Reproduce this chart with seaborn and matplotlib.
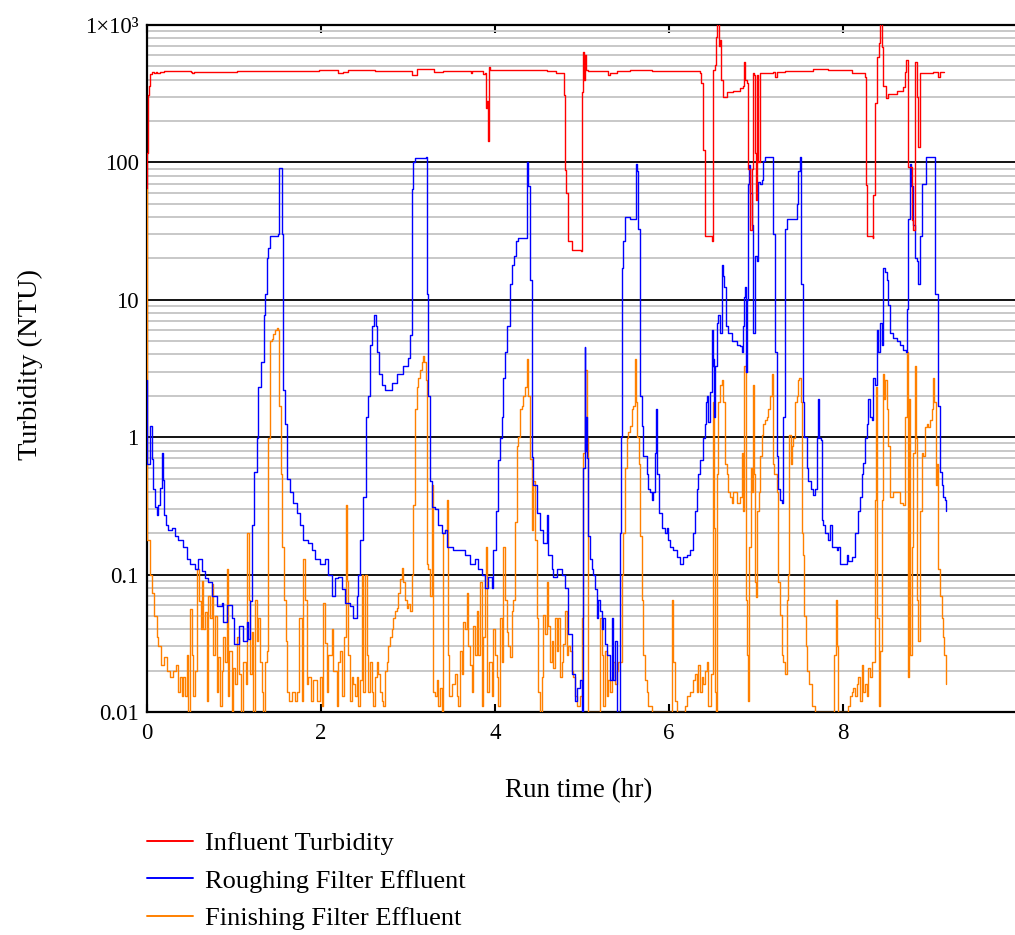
import matplotlib
matplotlib.use("Agg")
import matplotlib.pyplot as plt
import seaborn as sns
import pandas as pd
from matplotlib.ticker import FixedLocator, FixedFormatter, LogLocator, NullFormatter
from matplotlib.lines import Line2D

# ---- data: run time (hr) and turbidity (NTU) ----
influent_t = [0.0, 0.004, 0.01, 0.025, 0.04, 0.06, 0.08, 0.1, 0.12, 0.15, 0.2, 0.5, 0.52, 0.54, 0.6,
              1.0, 1.03, 1.95, 1.98, 2.05, 2.2, 2.25, 2.31, 2.6, 2.62, 3.0, 3.05, 3.1, 3.25, 3.3,
              3.4, 3.71, 3.72, 3.73, 3.866, 3.885, 3.897, 3.91, 3.922, 3.93, 3.943, 4.2, 4.55, 4.6,
              4.7, 4.785, 4.79, 4.805, 4.82, 4.835, 4.843, 4.881, 4.99, 4.996, 5.01, 5.02, 5.03,
              5.05, 5.073, 5.25, 5.3, 5.32, 5.4, 5.55, 5.7, 5.8, 6.36, 6.37, 6.395, 6.414, 6.49,
              6.5, 6.525, 6.54, 6.555, 6.57, 6.586, 6.6, 6.617, 6.663, 6.739, 6.816, 6.847, 6.862,
              6.874, 6.893, 6.912, 6.931, 6.95, 6.962, 6.977, 6.989, 7.0, 7.015, 7.027, 7.046,
              7.199, 7.218, 7.238, 7.333, 7.659, 7.812, 7.831, 8.08, 8.1, 8.234, 8.253, 8.264,
              8.28, 8.341, 8.349, 8.368, 8.387, 8.418, 8.425, 8.444, 8.456, 8.49, 8.521, 8.617,
              8.693, 8.713, 8.724, 8.751, 8.789, 8.808, 8.828, 8.85, 8.866, 8.885, 9.038, 9.096,
              9.115, 9.161]
influent_ntu = [65, 118, 310, 360, 440, 455, 445, 457, 450, 458, 462, 457, 450, 457, 452,
                455, 462, 462, 472, 468, 450, 455, 472, 472, 462, 462, 435, 475, 478, 452,
                462, 462, 450, 462, 440, 450, 248, 280, 144, 492, 470, 470, 468, 462,
                450, 445, 310, 88, 60, 49, 27, 23, 22.5, 327, 640, 400, 600,
                470, 462, 462, 430, 450, 465, 470, 468, 462, 445, 377, 123, 29, 27,
                470, 511, 822, 1030, 700, 776, 398, 300, 327, 330, 346, 360, 541,
                400, 377, 90, 32, 90, 450, 430, 117, 53, 430, 100, 450,
                457, 421, 455, 462, 478, 478, 468, 468, 450, 445, 420, 69,
                29, 28, 58, 271, 588, 736, 1050, 695, 360, 292, 316, 330,
                355, 457, 556, 93, 38, 32, 540, 300, 130, 450, 457, 421,
                455, 455]

roughing_t = [0.0, 0.004, 0.034, 0.054, 0.065, 0.092, 0.119, 0.13, 0.149, 0.169, 0.18, 0.195, 0.218,
              0.245, 0.284, 0.322, 0.36, 0.418, 0.456, 0.494, 0.552, 0.59, 0.628, 0.667, 0.705,
              0.743, 0.8, 0.858, 0.877, 0.923, 0.973, 1.004, 1.061, 1.107, 1.146, 1.157, 1.184,
              1.203, 1.23, 1.26, 1.28, 1.307, 1.345, 1.356, 1.376, 1.395, 1.414, 1.51, 1.521,
              1.536, 1.548, 1.567, 1.586, 1.605, 1.644, 1.682, 1.72, 1.759, 1.797, 1.854, 1.893,
              1.931, 1.989, 2.046, 2.084, 2.123, 2.161, 2.199, 2.238, 2.276, 2.333, 2.372, 2.41,
              2.429, 2.448, 2.487, 2.517, 2.544, 2.563, 2.582, 2.609, 2.632, 2.648, 2.67, 2.697,
              2.736, 2.793, 2.812, 2.87, 2.946, 3.004, 3.023, 3.042, 3.061, 3.08, 3.207, 3.215,
              3.234, 3.253, 3.272, 3.31, 3.349, 3.387, 3.425, 3.452, 3.521, 3.598, 3.655, 3.713,
              3.77, 3.808, 3.847, 3.885, 3.923, 3.962, 3.981, 4.011, 4.038, 4.057, 4.077, 4.096,
              4.115, 4.134, 4.172, 4.19, 4.218, 4.241, 4.268, 4.345, 4.364, 4.371, 4.383, 4.402,
              4.421, 4.441, 4.479, 4.517, 4.555, 4.594, 4.605, 4.651, 4.67, 4.709, 4.766, 4.805,
              4.843, 4.881, 4.92, 4.939, 4.977, 4.996, 5.015, 5.03, 5.04, 5.05, 5.06, 5.073,
              5.092, 5.11, 5.13, 5.149, 5.169, 5.188, 5.207, 5.226, 5.245, 5.264, 5.284, 5.322,
              5.341, 5.36, 5.379, 5.398, 5.406, 5.425, 5.437, 5.448, 5.456, 5.475, 5.494, 5.552,
              5.609, 5.621, 5.636, 5.648, 5.667, 5.686, 5.705, 5.743, 5.762, 5.782, 5.801, 5.82,
              5.839, 5.851, 5.866, 5.885, 5.916, 5.954, 5.973, 5.992, 6.011, 6.05, 6.088, 6.126,
              6.165, 6.203, 6.241, 6.28, 6.299, 6.318, 6.337, 6.356, 6.395, 6.414, 6.425, 6.441,
              6.452, 6.471, 6.49, 6.502, 6.51, 6.521, 6.533, 6.548, 6.567, 6.586, 6.605, 6.617,
              6.632, 6.651, 6.682, 6.72, 6.777, 6.816, 6.835, 6.847, 6.862, 6.874, 6.885, 6.893,
              6.905, 6.915, 6.931, 6.95, 6.969, 6.989, 7.008, 7.027, 7.046, 7.065, 7.084, 7.103,
              7.18, 7.192, 7.218, 7.238, 7.257, 7.276, 7.295, 7.314, 7.333, 7.352, 7.429, 7.467,
              7.487, 7.506, 7.52, 7.536, 7.552, 7.582, 7.602, 7.628, 7.659, 7.678, 7.697, 7.716,
              7.728, 7.743, 7.755, 7.774, 7.793, 7.832, 7.851, 7.87, 7.889, 7.927, 7.946, 7.966,
              8.004, 8.042, 8.061, 8.1, 8.138, 8.176, 8.195, 8.215, 8.234, 8.253, 8.272, 8.291,
              8.31, 8.33, 8.349, 8.368, 8.387, 8.406, 8.425, 8.444, 8.464, 8.483, 8.502, 8.521,
              8.54, 8.579, 8.617, 8.655, 8.693, 8.724, 8.732, 8.751, 8.77, 8.782, 8.801, 8.828,
              8.847, 8.866, 8.885, 8.904, 8.943, 8.954, 9.038, 9.057, 9.096, 9.115, 9.134, 9.153,
              9.172, 9.184]
roughing_ntu = [2.6, 0.64, 1.2, 0.69, 0.42, 0.31, 0.27, 0.32, 0.43, 0.77, 0.49, 0.27, 0.23,
                0.21, 0.22, 0.19, 0.18, 0.16, 0.13, 0.12, 0.11, 0.13, 0.107, 0.094, 0.089,
                0.07, 0.059, 0.062, 0.045, 0.06, 0.048, 0.031, 0.042, 0.033, 0.045, 0.034, 0.064,
                0.23, 0.56, 0.98, 2.3, 3.5, 7.7, 11, 20, 24, 29, 30, 91,
                91, 30, 2.2, 1.25, 0.5, 0.4, 0.33, 0.28, 0.23, 0.18, 0.17, 0.15,
                0.13, 0.12, 0.13, 0.10, 0.07, 0.094, 0.096, 0.078, 0.062, 0.059, 0.048, 0.07,
                0.1, 0.18, 0.37, 1.4, 2.0, 4.7, 6.4, 7.7, 6.4, 4.2, 2.9, 2.4,
                2.2, 2.2, 2.5, 2.9, 3.3, 3.8, 5.5, 64, 100, 108, 110, 11,
                2.0, 0.48, 0.31, 0.3, 0.23, 0.2, 0.21, 0.16, 0.15, 0.15, 0.14, 0.12,
                0.13, 0.11, 0.1, 0.08, 0.096, 0.08, 0.15, 0.29, 0.68, 0.98, 1.4, 2.7,
                4.2, 6.4, 13, 18, 21, 27, 28, 28, 67, 100, 67, 14,
                0.72, 0.45, 0.28, 0.21, 0.17, 0.27, 0.14, 0.11, 0.096, 0.11, 0.1, 0.08,
                0.037, 0.019, 0.012, 0.015, 0.017, 0.01, 0.6, 4.5, 0.8, 1.4, 0.7, 0.19,
                0.13, 0.11, 0.1, 0.078, 0.048, 0.065, 0.054, 0.04, 0.048, 0.031, 0.026, 0.017,
                0.048, 0.017, 0.033, 0.016, 0.01, 0.01, 0.2, 1.0, 17, 27, 40, 39,
                39, 97, 86, 33, 2.0, 1.2, 0.73, 0.54, 0.42, 0.4, 0.35, 0.4,
                0.77, 1.6, 0.54, 0.28, 0.22, 0.2, 0.22, 0.18, 0.16, 0.15, 0.134, 0.12,
                0.134, 0.14, 0.15, 0.2, 0.29, 0.42, 0.54, 0.68, 0.98, 1.25, 1.8, 2.0,
                1.3, 2.15, 6.0, 3.3, 3.7, 1.4, 3.3, 6.8, 7.7, 5.7, 18, 15,
                12.4, 6.4, 5.7, 5.0, 4.7, 4.6, 4.2, 6.4, 10.4, 12.4, 3.0, 10,
                70, 95, 60, 35, 5.7, 21, 19, 72, 70, 74, 103, 110,
                110, 30, 4.2, 0.73, 0.42, 0.35, 0.33, 1.4, 33, 39, 39, 50,
                86, 110, 13, 1.8, 1.0, 0.6, 0.48, 0.42, 0.38, 0.42, 0.98, 1.9,
                0.98, 0.95, 0.25, 0.23, 0.2, 0.18, 0.23, 0.16, 0.16, 0.15, 0.16, 0.12,
                0.12, 0.14, 0.126, 0.134, 0.2, 0.29, 0.37, 0.54, 0.65, 0.98, 1.25, 1.9,
                1.4, 1.33, 2.7, 2.4, 6.0, 4.2, 6.8, 4.7, 17, 16, 14, 9.2,
                5.7, 5.3, 5.0, 4.7, 4.3, 4.2, 8.6, 39, 97, 67, 35, 20,
                19, 13, 29, 70, 70, 110, 110, 11, 1.7, 0.56, 0.45, 0.37,
                0.35, 0.29]

finishing_t = [0.0, 0.003, 0.005, 0.035, 0.054, 0.08, 0.11, 0.13, 0.157, 0.195, 0.226, 0.264, 0.303,
               0.333, 0.36, 0.379, 0.398, 0.418, 0.437, 0.456, 0.475, 0.494, 0.513, 0.533, 0.552,
               0.579, 0.6, 0.617, 0.628, 0.648, 0.667, 0.686, 0.705, 0.724, 0.743, 0.762, 0.782,
               0.801, 0.82, 0.839, 0.858, 0.877, 0.896, 0.916, 0.927, 0.946, 0.973, 0.992, 1.011,
               1.038, 1.061, 1.08, 1.107, 1.138, 1.153, 1.169, 1.184, 1.203, 1.222, 1.241, 1.26,
               1.28, 1.299, 1.318, 1.337, 1.356, 1.376, 1.395, 1.414, 1.433, 1.452, 1.471, 1.49,
               1.51, 1.521, 1.536, 1.555, 1.575, 1.598, 1.613, 1.632, 1.663, 1.701, 1.72, 1.751,
               1.778, 1.797, 1.816, 1.835, 1.854, 1.881, 1.912, 1.95, 1.989, 2.008, 2.027, 2.046,
               2.065, 2.084, 2.123, 2.142, 2.18, 2.199, 2.218, 2.238, 2.264, 2.284, 2.295, 2.314,
               2.333, 2.353, 2.372, 2.391, 2.41, 2.429, 2.448, 2.467, 2.487, 2.506, 2.525, 2.544,
               2.563, 2.582, 2.601, 2.62, 2.64, 2.659, 2.678, 2.697, 2.716, 2.735, 2.755, 2.774,
               2.793, 2.812, 2.831, 2.85, 2.869, 2.889, 2.908, 2.927, 2.946, 2.965, 2.984, 3.004,
               3.023, 3.042, 3.061, 3.08, 3.099, 3.119, 3.138, 3.157, 3.176, 3.188, 3.203, 3.215,
               3.234, 3.253, 3.272, 3.291, 3.31, 3.329, 3.349, 3.368, 3.387, 3.406, 3.425, 3.444,
               3.456, 3.475, 3.502, 3.54, 3.559, 3.578, 3.598, 3.617, 3.636, 3.655, 3.674, 3.693,
               3.712, 3.732, 3.751, 3.77, 3.789, 3.808, 3.828, 3.847, 3.866, 3.885, 3.897, 3.912,
               3.935, 3.962, 3.981, 4.0, 4.019, 4.038, 4.057, 4.077, 4.096, 4.115, 4.134, 4.153,
               4.172, 4.191, 4.21, 4.23, 4.249, 4.268, 4.287, 4.306, 4.325, 4.345, 4.364, 4.383,
               4.402, 4.421, 4.44, 4.46, 4.479, 4.498, 4.517, 4.536, 4.555, 4.575, 4.594, 4.613,
               4.632, 4.651, 4.67, 4.69, 4.709, 4.728, 4.747, 4.766, 4.785, 4.805, 4.824, 4.843,
               4.862, 4.881, 4.9, 4.92, 4.939, 4.977, 4.996, 5.015, 5.034, 5.054, 5.073, 5.207,
               5.226, 5.245, 5.264, 5.284, 5.303, 5.322, 5.341, 5.36, 5.379, 5.398, 5.418, 5.437,
               5.456, 5.475, 5.494, 5.513, 5.533, 5.552, 5.571, 5.59, 5.609, 5.621, 5.636, 5.655,
               5.667, 5.686, 5.705, 5.724, 5.743, 5.762, 5.801, 6.011, 6.03, 6.05, 6.069, 6.088,
               6.165, 6.184, 6.203, 6.241, 6.28, 6.299, 6.318, 6.337, 6.356, 6.375, 6.395, 6.414,
               6.433, 6.452, 6.479, 6.502, 6.51, 6.517, 6.529, 6.54, 6.556, 6.567, 6.586, 6.605,
               6.625, 6.644, 6.663, 6.682, 6.701, 6.72, 6.739, 6.778, 6.816, 6.843, 6.854, 6.866,
               6.881, 6.893, 6.904, 6.923, 6.939, 6.95, 6.962, 6.977, 6.989, 7.0, 7.015, 7.034,
               7.046, 7.065, 7.084, 7.103, 7.123, 7.142, 7.161, 7.18, 7.192, 7.207, 7.238, 7.257,
               7.276, 7.295, 7.314, 7.333, 7.352, 7.372, 7.383, 7.398, 7.414, 7.429, 7.448, 7.467,
               7.487, 7.498, 7.513, 7.525, 7.537, 7.552, 7.575, 7.59, 7.613, 7.64, 7.678, 7.889,
               7.9, 7.916, 7.927, 7.939, 8.042, 8.061, 8.08, 8.1, 8.119, 8.138, 8.157, 8.176,
               8.196, 8.215, 8.234, 8.253, 8.272, 8.291, 8.31, 8.33, 8.349, 8.368, 8.38, 8.395,
               8.41, 8.425, 8.445, 8.456, 8.471, 8.487, 8.502, 8.521, 8.54, 8.579, 8.617, 8.655,
               8.694, 8.713, 8.732, 8.744, 8.755, 8.77, 8.79, 8.809, 8.828, 8.839, 8.855, 8.866,
               8.885, 8.904, 8.923, 8.943, 8.962, 8.981, 9.0, 9.019, 9.038, 9.05, 9.065, 9.084,
               9.096, 9.115, 9.134, 9.153, 9.165, 9.18]
finishing_ntu = [65, 1.0, 0.18, 0.1, 0.073, 0.05, 0.035, 0.03, 0.022, 0.025, 0.02, 0.018, 0.02,
                 0.022, 0.014, 0.018, 0.013, 0.018, 0.013, 0.026, 0.01, 0.056, 0.026, 0.013, 0.02,
                 0.11, 0.064, 0.04, 0.09, 0.04, 0.053, 0.012, 0.07, 0.048, 0.085, 0.026, 0.05,
                 0.014, 0.025, 0.011, 0.02, 0.035, 0.023, 0.11, 0.013, 0.028, 0.01, 0.021, 0.016,
                 0.035, 0.019, 0.01, 0.023, 0.016, 0.2, 0.065, 0.019, 0.038, 0.01, 0.065, 0.033,
                 0.048, 0.023, 0.014, 0.01, 0.023, 0.028, 0.98, 5.0, 5.2, 5.6, 6.0, 6.2,
                 6.0, 1.7, 0.54, 0.16, 0.065, 0.033, 0.014, 0.012, 0.014, 0.012, 0.014, 0.048,
                 0.012, 0.13, 0.065, 0.016, 0.018, 0.012, 0.017, 0.012, 0.018, 0.011, 0.062, 0.032,
                 0.014, 0.026, 0.04, 0.02, 0.011, 0.023, 0.028, 0.013, 0.035, 0.32, 0.09, 0.026,
                 0.012, 0.018, 0.016, 0.013, 0.018, 0.011, 0.017, 0.1, 0.014, 0.1, 0.026, 0.014,
                 0.023, 0.014, 0.011, 0.018, 0.023, 0.019, 0.014, 0.012, 0.011, 0.02, 0.023, 0.03,
                 0.035, 0.04, 0.048, 0.054, 0.057, 0.073, 0.093, 0.111, 0.088, 0.065, 0.057, 0.061,
                 0.054, 0.1, 0.32, 1.6, 2.3, 2.7, 3.1, 3.5, 3.9, 3.5, 2.6, 0.12,
                 0.11, 0.07, 0.45, 0.014, 0.013, 0.017, 0.011, 0.015, 0.01, 0.2, 0.21, 0.35,
                 0.026, 0.013, 0.016, 0.019, 0.013, 0.011, 0.028, 0.019, 0.045, 0.04, 0.073, 0.03,
                 0.022, 0.014, 0.042, 0.026, 0.054, 0.026, 0.088, 0.011, 0.035, 0.1, 0.16, 0.014,
                 0.023, 0.013, 0.04, 0.026, 0.018, 0.011, 0.048, 0.023, 0.16, 0.065, 0.038, 0.03,
                 0.025, 0.054, 0.065, 0.24, 0.87, 1.0, 1.6, 1.7, 2.0, 2.3, 3.7, 2.0,
                 0.69, 0.21, 0.48, 0.18, 0.048, 0.014, 0.01, 0.018, 0.051, 0.037, 0.088, 0.042,
                 0.023, 0.033, 0.021, 0.048, 0.028, 0.048, 0.018, 0.023, 0.031, 0.054, 0.026, 0.03,
                 0.028, 0.02, 0.018, 0.013, 0.011, 0.013, 0.048, 0.77, 3.1, 0.98, 0.01, 0.048,
                 0.026, 0.011, 0.028, 0.013, 0.017, 0.014, 0.018, 0.023, 0.016, 0.02, 0.023, 0.023,
                 0.1, 0.2, 0.6, 0.98, 1.1, 1.2, 1.6, 1.7, 3.7, 1.8, 1.0, 0.64,
                 0.19, 0.065, 0.026, 0.017, 0.014, 0.011, 0.01, 0.01, 0.065, 0.023, 0.012, 0.01,
                 0.01, 0.011, 0.013, 0.014, 0.017, 0.019, 0.014, 0.022, 0.014, 0.018, 0.016, 0.02,
                 0.023, 0.011, 0.019, 0.29, 1.8, 0.22, 0.014, 0.01, 0.54, 1.8, 2.4, 2.6,
                 1.8, 0.64, 0.54, 0.4, 0.37, 0.33, 0.4, 0.33, 0.37, 0.77, 0.29, 3.3,
                 0.065, 0.026, 0.012, 0.16, 0.6, 0.4, 2.4, 0.54, 0.088, 0.069, 0.29, 0.4,
                 0.73, 1.04, 1.25, 1.33, 1.41, 1.6, 2.0, 2.9, 0.64, 0.54, 0.4, 0.088,
                 0.051, 0.026, 0.023, 0.019, 0.065, 0.1, 1.04, 0.64, 0.87, 0.98, 1.8, 2.0,
                 2.6, 2.7, 1.8, 0.2, 0.14, 0.05, 0.03, 0.02, 0.016, 0.011, 0.01, 0.01,
                 0.026, 0.065, 0.03, 0.01, 0.01, 0.011, 0.013, 0.014, 0.015, 0.013, 0.016, 0.018,
                 0.012, 0.022, 0.014, 0.016, 0.013, 0.021, 0.018, 0.023, 0.023, 0.35, 2.3, 0.048,
                 0.011, 0.028, 0.35, 2.9, 1.9, 2.6, 1.6, 0.87, 0.37, 0.4, 0.4, 0.33,
                 0.32, 1.4, 4.2, 0.018, 1.9, 0.026, 0.16, 0.77, 3.3, 0.98, 0.065, 0.033,
                 0.29, 0.77, 0.73, 1.18, 1.25, 1.18, 1.33, 1.6, 2.7, 1.8, 0.45, 0.64,
                 0.11, 0.07, 0.048, 0.035, 0.026, 0.016]

series_labels = ["Influent Turbidity", "Roughing Filter Effluent", "Finishing Filter Effluent"]
series_colors = ["#ff0000", "#0000ff", "#ff8000"]
x_ticks = [0, 2, 4, 6, 8]
y_ticks = [0.01, 0.1, 1, 10, 100, 1000]
y_tick_labels = ["0.01", "0.1", "1", "10", "100", "1×10³"]

sns.set_style("white")
plt.rcParams["font.family"] = ["Liberation Serif", "DejaVu Serif"]
plt.rcParams["axes.unicode_minus"] = False
plt.rcParams["text.color"] = "black"
plt.rcParams["axes.labelcolor"] = "black"
plt.rcParams["xtick.color"] = "black"
plt.rcParams["ytick.color"] = "black"

W, H = 1015, 935
fig = plt.figure(figsize=(W / 100, H / 100), dpi=100)
ax = fig.add_axes([147 / W, (H - 712) / H, 870 / W, (712 - 25) / H])
ax.set_yscale("log")

frames = {
    series_labels[0]: pd.DataFrame({"t": influent_t, "ntu": influent_ntu}),
    series_labels[1]: pd.DataFrame({"t": roughing_t, "ntu": roughing_ntu}),
    series_labels[2]: pd.DataFrame({"t": finishing_t, "ntu": finishing_ntu}),
}

# sampled readings are held until the next sample; finishing drawn first, influent on top
for label, color, z in zip(series_labels[::-1], series_colors[::-1], [3, 4, 5]):
    sns.lineplot(data=frames[label], x="t", y="ntu", ax=ax, color=color, lw=1.0,
                 estimator=None, sort=False, zorder=z, legend=False,
                 drawstyle="steps-post")

ax.set_xlabel("")
ax.set_ylabel("")
ax.set_xlim(0, 10)
ax.set_ylim(0.01, 1000)

ax.yaxis.set_major_locator(FixedLocator(y_ticks))
ax.yaxis.set_major_formatter(FixedFormatter(y_tick_labels))
ax.yaxis.set_minor_locator(LogLocator(base=10, subs=range(2, 10), numticks=20))
ax.yaxis.set_minor_formatter(NullFormatter())
ax.xaxis.set_major_locator(FixedLocator(x_ticks))
ax.set_xticklabels([str(v) for v in x_ticks])

ax.grid(which="major", axis="y", color="black", lw=1.3, zorder=1)
ax.grid(which="minor", axis="y", color="#c4c4c4", lw=1.3, zorder=1)
ax.grid(which="major", axis="x", visible=False)
ax.set_axisbelow(True)

ax.tick_params(axis="y", which="both", length=0, labelsize=16.5, pad=6, colors="black")
ax.tick_params(axis="x", which="major", direction="in", top=True, bottom=True,
               length=6, width=1.5, labelsize=16.5, pad=8, colors="black")

for side in ["left", "top", "bottom"]:
    ax.spines[side].set_visible(True)
    ax.spines[side].set_color("black")
    ax.spines[side].set_linewidth(1.6)
ax.spines["right"].set_visible(False)

fig.text(579 / W, 1 - 791 / H, "Run time (hr)", fontsize=19.5, ha="center", va="center",
         color="black")
fig.text(30 / W, 1 - 365 / H, "Turbidity (NTU)", fontsize=20.5, rotation=90,
         ha="center", va="center", color="black")

handles = [Line2D([0], [0], color=c, lw=1.4) for c in series_colors]
leg = fig.legend(handles, series_labels, loc="upper left",
                 bbox_to_anchor=(147 / W, 1 - 832 / H), frameon=False,
                 fontsize=19, handlelength=1.75, handletextpad=0.45, labelspacing=0.52,
                 borderpad=0, borderaxespad=0, labelcolor="black")

fig.savefig("out.png", dpi=100)
